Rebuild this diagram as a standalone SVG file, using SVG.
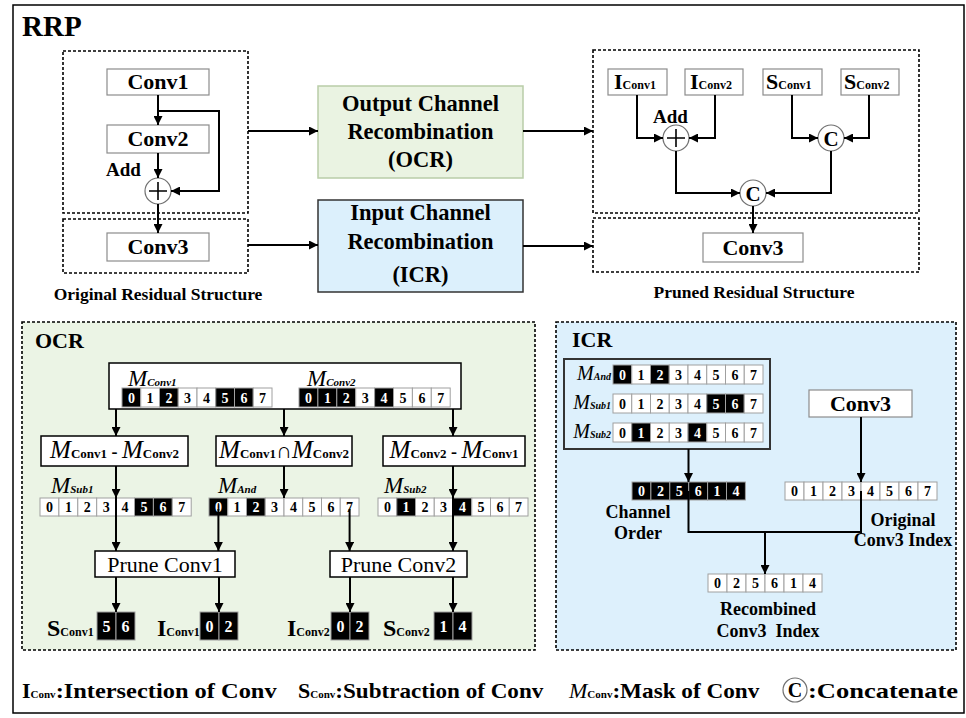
<svg xmlns="http://www.w3.org/2000/svg" width="966" height="718" viewBox="0 0 966 718" font-family="'Liberation Serif', 'Times New Roman', serif">
<defs>
<marker id="ah" viewBox="0 0 10 10" refX="10" refY="5" markerWidth="9" markerHeight="9" markerUnits="userSpaceOnUse" orient="auto"><path d="M0,0 L10,5 L0,10 z" fill="#000"/></marker>
<style>
text{font-family:"Liberation Serif","Times New Roman",serif;font-weight:bold;fill:#000}
.c{text-anchor:middle}
.n{font-weight:normal}
.dash{fill:none;stroke:#000;stroke-width:1.6;stroke-dasharray:3 2}
.gbox{fill:#fff;stroke:#8c8c8c;stroke-width:1.2}
.kbox{fill:#fff;stroke:#000;stroke-width:1.5}
.ln{fill:none;stroke:#000;stroke-width:2}
.ar{fill:none;stroke:#000;stroke-width:2;marker-end:url(#ah)}
.w{fill:#fff;stroke:#a0a0a0;stroke-width:1}
.b{fill:#000;stroke:#a0a0a0;stroke-width:1}
.nw{font-size:14px;text-anchor:middle;fill:#000}
.nb{font-size:14px;text-anchor:middle;fill:#fff}
.rb{font-size:16px;text-anchor:middle;fill:#fff}
.circ{fill:#fff;stroke:#707070;stroke-width:1.2}
.mi{font-style:italic;font-weight:normal}
.sub{font-size:12px}
.it{font-style:italic}
</style>
</defs>
<rect x="13" y="5" width="951" height="708" fill="#fff" stroke="#000" stroke-width="1.5"/>
<text x="22" y="36" font-size="29">RRP</text>

<!-- Original residual structure -->
<g id="orig">
<rect class="dash" x="63" y="51" width="185" height="162"/>
<rect class="dash" x="63" y="219" width="185" height="54"/>
<text class="c" x="158" y="300" font-size="17.5">Original Residual Structure</text>
</g>
<g id="conv1"><rect class="gbox" x="107" y="69" width="102" height="26"/><text class="c" x="158" y="89" font-size="22">Conv1</text></g>
<g id="conv2"><rect class="gbox" x="107" y="125" width="102" height="28"/><text class="c" x="158" y="146" font-size="22">Conv2</text></g>
<g id="conv3"><rect class="gbox" x="107" y="233" width="102" height="28"/><text class="c" x="158" y="254" font-size="22">Conv3</text></g>
<g id="add1"><circle class="circ" cx="158" cy="191" r="13"/><path d="M149,191 H167 M158,182 V200" stroke="#000" stroke-width="1.6"/><text x="106" y="176" font-size="19">Add</text></g>

<!-- OCR / ICR boxes -->
<g id="ocrbox"><rect x="318" y="86" width="205" height="92" fill="#eaf3e2" stroke="#b9cda8" stroke-width="1.5"/>
<text class="c" x="420.5" y="111" font-size="22.5">Output Channel</text>
<text class="c" x="420.5" y="139" font-size="22.5">Recombination</text>
<text class="c" x="420.5" y="167" font-size="22.5">(OCR)</text></g>
<g id="icrbox"><rect x="318" y="200" width="205" height="92" fill="#dcf0fc" stroke="#333" stroke-width="1.5"/>
<text class="c" x="420.5" y="220" font-size="22.5">Input Channel</text>
<text class="c" x="420.5" y="249" font-size="22.5">Recombination</text>
<text class="c" x="420.5" y="282" font-size="22.5">(ICR)</text></g>

<!-- Pruned residual structure -->
<g id="pruned">
<rect class="dash" x="593" y="50" width="326" height="163"/>
<rect class="dash" x="593" y="218" width="326" height="54"/>
<text class="c" x="754" y="298" font-size="17.5">Pruned Residual Structure</text>
</g>
<g id="ic1"><rect class="gbox" x="608" y="69" width="59" height="26"/><text x="614" y="89" font-size="22">I<tspan class="sub">Conv1</tspan></text></g>
<g id="ic2"><rect class="gbox" x="685" y="69" width="58" height="26"/><text x="690" y="89" font-size="22">I<tspan class="sub">Conv2</tspan></text></g>
<g id="sc1"><rect class="gbox" x="763" y="69" width="59" height="26"/><text x="766" y="89" font-size="22">S<tspan class="sub">Conv1</tspan></text></g>
<g id="sc2"><rect class="gbox" x="841" y="69" width="58" height="26"/><text x="844" y="89" font-size="22">S<tspan class="sub">Conv2</tspan></text></g>
<g id="add2"><circle class="circ" cx="676" cy="138" r="13"/><path d="M667,138 H685 M676,129 V147" stroke="#000" stroke-width="1.6"/><text x="653" y="123" font-size="19">Add</text></g>
<g id="cat1"><circle class="circ" cx="831" cy="138" r="13"/><text class="c" x="831" y="145.5" font-size="21">C</text></g>
<g id="cat2"><circle class="circ" cx="753" cy="193" r="13"/><text class="c" x="753" y="200.5" font-size="21">C</text></g>
<g id="pconv3"><rect class="gbox" x="703" y="233" width="100" height="29"/><text class="c" x="753" y="255" font-size="22">Conv3</text></g>

<!-- OCR panel -->
<g id="ocrpanel">
<rect x="22" y="322" width="513" height="328" fill="#ebf4e5" stroke="#000" stroke-width="1.6" stroke-dasharray="3 2"/>
<text x="35" y="348" font-size="22">OCR</text>
</g>
<g id="masks">
<rect class="kbox" x="109" y="363" width="352" height="46"/>
<text x="128" y="386"><tspan class="mi" font-size="23">M</tspan><tspan class="it" font-size="11">Conv1</tspan></text>
<text x="307" y="386"><tspan class="mi" font-size="23">M</tspan><tspan class="it" font-size="11">Conv2</tspan></text>
<rect class="b" x="122" y="388" width="18.75" height="19"/><text class="nb" x="131.4" y="402.5">0</text>
<rect class="w" x="140.75" y="388" width="18.75" height="19"/><text class="nw" x="150.1" y="402.5">1</text>
<rect class="b" x="159.5" y="388" width="18.75" height="19"/><text class="nb" x="168.9" y="402.5">2</text>
<rect class="w" x="178.25" y="388" width="18.75" height="19"/><text class="nw" x="187.6" y="402.5">3</text>
<rect class="w" x="197" y="388" width="18.75" height="19"/><text class="nw" x="206.4" y="402.5">4</text>
<rect class="b" x="215.75" y="388" width="18.75" height="19"/><text class="nb" x="225.1" y="402.5">5</text>
<rect class="b" x="234.5" y="388" width="18.75" height="19"/><text class="nb" x="243.9" y="402.5">6</text>
<rect class="w" x="253.25" y="388" width="18.75" height="19"/><text class="nw" x="262.6" y="402.5">7</text>
<rect class="b" x="299" y="388" width="18.9" height="19"/><text class="nb" x="308.5" y="402.5">0</text>
<rect class="b" x="317.9" y="388" width="18.9" height="19"/><text class="nb" x="327.4" y="402.5">1</text>
<rect class="b" x="336.8" y="388" width="18.9" height="19"/><text class="nb" x="346.3" y="402.5">2</text>
<rect class="w" x="355.7" y="388" width="18.9" height="19"/><text class="nw" x="365.2" y="402.5">3</text>
<rect class="b" x="374.6" y="388" width="18.9" height="19"/><text class="nb" x="384.1" y="402.5">4</text>
<rect class="w" x="393.5" y="388" width="18.9" height="19"/><text class="nw" x="403" y="402.5">5</text>
<rect class="w" x="412.4" y="388" width="18.9" height="19"/><text class="nw" x="421.9" y="402.5">6</text>
<rect class="w" x="431.3" y="388" width="18.9" height="19"/><text class="nw" x="440.8" y="402.5">7</text>
</g>
<g id="op1"><rect class="kbox" x="41" y="436" width="147" height="30"/><text class="c" x="114.5" y="458"><tspan class="mi" font-size="25">M</tspan><tspan font-size="13">Conv1</tspan><tspan font-size="18"> - </tspan><tspan class="mi" font-size="25">M</tspan><tspan font-size="13">Conv2</tspan></text></g>
<g id="op2"><rect class="kbox" x="216" y="436" width="136" height="30"/><text class="c" x="284" y="458"><tspan class="mi" font-size="25">M</tspan><tspan font-size="13">Conv1</tspan><tspan class="n" font-size="22">∩</tspan><tspan class="mi" font-size="25">M</tspan><tspan font-size="13">Conv2</tspan></text></g>
<g id="op3"><rect class="kbox" x="383" y="436" width="142" height="30"/><text class="c" x="454" y="458"><tspan class="mi" font-size="25">M</tspan><tspan font-size="13">Conv2</tspan><tspan font-size="18"> - </tspan><tspan class="mi" font-size="25">M</tspan><tspan font-size="13">Conv1</tspan></text></g>
<g id="sub1">
<text x="51" y="493"><tspan class="mi" font-size="23">M</tspan><tspan class="it" font-size="11">Sub1</tspan></text>
<rect class="w" x="40" y="498" width="18.9" height="18"/><text class="nw" x="49.5" y="512">0</text>
<rect class="w" x="58.9" y="498" width="18.9" height="18"/><text class="nw" x="68.4" y="512">1</text>
<rect class="w" x="77.8" y="498" width="18.9" height="18"/><text class="nw" x="87.3" y="512">2</text>
<rect class="w" x="96.7" y="498" width="18.9" height="18"/><text class="nw" x="106.2" y="512">3</text>
<rect class="w" x="115.6" y="498" width="18.9" height="18"/><text class="nw" x="125.1" y="512">4</text>
<rect class="b" x="134.5" y="498" width="18.9" height="18"/><text class="nb" x="144" y="512">5</text>
<rect class="b" x="153.4" y="498" width="18.9" height="18"/><text class="nb" x="162.9" y="512">6</text>
<rect class="w" x="172.3" y="498" width="18.9" height="18"/><text class="nw" x="181.8" y="512">7</text>
</g>
<g id="and">
<text x="218" y="493"><tspan class="mi" font-size="23">M</tspan><tspan class="it" font-size="11">And</tspan></text>
<rect class="b" x="209" y="498" width="18.75" height="18"/><text class="nb" x="218.4" y="512">0</text>
<rect class="w" x="227.75" y="498" width="18.75" height="18"/><text class="nw" x="237.1" y="512">1</text>
<rect class="b" x="246.5" y="498" width="18.75" height="18"/><text class="nb" x="255.9" y="512">2</text>
<rect class="w" x="265.25" y="498" width="18.75" height="18"/><text class="nw" x="274.6" y="512">3</text>
<rect class="w" x="284" y="498" width="18.75" height="18"/><text class="nw" x="293.4" y="512">4</text>
<rect class="w" x="302.75" y="498" width="18.75" height="18"/><text class="nw" x="312.1" y="512">5</text>
<rect class="w" x="321.5" y="498" width="18.75" height="18"/><text class="nw" x="330.9" y="512">6</text>
<rect class="w" x="340.25" y="498" width="18.75" height="18"/><text class="nw" x="349.6" y="512">7</text>
</g>
<g id="sub2">
<text x="384" y="493"><tspan class="mi" font-size="23">M</tspan><tspan class="it" font-size="11">Sub2</tspan></text>
<rect class="w" x="378" y="498" width="18.75" height="18"/><text class="nw" x="387.4" y="512">0</text>
<rect class="b" x="396.75" y="498" width="18.75" height="18"/><text class="nb" x="406.1" y="512">1</text>
<rect class="w" x="415.5" y="498" width="18.75" height="18"/><text class="nw" x="424.9" y="512">2</text>
<rect class="w" x="434.25" y="498" width="18.75" height="18"/><text class="nw" x="443.6" y="512">3</text>
<rect class="b" x="453" y="498" width="18.75" height="18"/><text class="nb" x="462.4" y="512">4</text>
<rect class="w" x="471.75" y="498" width="18.75" height="18"/><text class="nw" x="481.1" y="512">5</text>
<rect class="w" x="490.5" y="498" width="18.75" height="18"/><text class="nw" x="499.9" y="512">6</text>
<rect class="w" x="509.25" y="498" width="18.75" height="18"/><text class="nw" x="518.6" y="512">7</text>
</g>
<g id="prune1"><rect class="kbox" x="95" y="551" width="140" height="26"/><text class="c n" x="165" y="572" font-size="22">Prune Conv1</text></g>
<g id="prune2"><rect class="kbox" x="330" y="551" width="137" height="26"/><text class="c n" x="398.5" y="572" font-size="22">Prune Conv2</text></g>
<g id="results">
<text x="47" y="636" font-size="24">S<tspan class="sub">Conv1</tspan></text>
<rect class="b" x="97" y="612" width="19" height="28"/><text class="rb" x="106.5" y="632">5</text>
<rect class="b" x="116" y="612" width="19" height="28"/><text class="rb" x="125.5" y="632">6</text>
<text x="157" y="636" font-size="24">I<tspan class="sub">Conv1</tspan></text>
<rect class="b" x="200" y="612" width="19" height="28"/><text class="rb" x="209.5" y="632">0</text>
<rect class="b" x="219" y="612" width="19" height="28"/><text class="rb" x="228.5" y="632">2</text>
<text x="287" y="636" font-size="24">I<tspan class="sub">Conv2</tspan></text>
<rect class="b" x="331" y="612" width="19" height="28"/><text class="rb" x="340.5" y="632">0</text>
<rect class="b" x="350" y="612" width="19" height="28"/><text class="rb" x="359.5" y="632">2</text>
<text x="383" y="636" font-size="24">S<tspan class="sub">Conv2</tspan></text>
<rect class="b" x="434" y="612" width="19" height="28"/><text class="rb" x="443.5" y="632">1</text>
<rect class="b" x="453" y="612" width="19" height="28"/><text class="rb" x="462.5" y="632">4</text>
</g>

<!-- ICR panel -->
<g id="icrpanel">
<rect x="556" y="322" width="400" height="328" fill="#ddf0fc" stroke="#000" stroke-width="1.6" stroke-dasharray="3 2"/>
<text x="572" y="347" font-size="22">ICR</text>
</g>
<g id="icrmasks">
<rect x="564" y="359" width="206" height="90" fill="#ddf0fc" stroke="#333" stroke-width="2"/>
<text x="611" y="380" text-anchor="end"><tspan class="mi" font-size="20">M</tspan><tspan class="it" font-size="10">And</tspan></text>
<text x="611" y="409" text-anchor="end"><tspan class="mi" font-size="20">M</tspan><tspan class="it" font-size="10">Sub1</tspan></text>
<text x="611" y="438" text-anchor="end"><tspan class="mi" font-size="20">M</tspan><tspan class="it" font-size="10">Sub2</tspan></text>
<rect class="b" x="613" y="365" width="18.75" height="19"/><text class="nb" x="622.4" y="379.5">0</text>
<rect class="w" x="631.75" y="365" width="18.75" height="19"/><text class="nw" x="641.1" y="379.5">1</text>
<rect class="b" x="650.5" y="365" width="18.75" height="19"/><text class="nb" x="659.9" y="379.5">2</text>
<rect class="w" x="669.25" y="365" width="18.75" height="19"/><text class="nw" x="678.6" y="379.5">3</text>
<rect class="w" x="688" y="365" width="18.75" height="19"/><text class="nw" x="697.4" y="379.5">4</text>
<rect class="w" x="706.75" y="365" width="18.75" height="19"/><text class="nw" x="716.1" y="379.5">5</text>
<rect class="w" x="725.5" y="365" width="18.75" height="19"/><text class="nw" x="734.9" y="379.5">6</text>
<rect class="w" x="744.25" y="365" width="18.75" height="19"/><text class="nw" x="753.6" y="379.5">7</text>
<rect class="w" x="613" y="394" width="18.75" height="19"/><text class="nw" x="622.4" y="408.5">0</text>
<rect class="w" x="631.75" y="394" width="18.75" height="19"/><text class="nw" x="641.1" y="408.5">1</text>
<rect class="w" x="650.5" y="394" width="18.75" height="19"/><text class="nw" x="659.9" y="408.5">2</text>
<rect class="w" x="669.25" y="394" width="18.75" height="19"/><text class="nw" x="678.6" y="408.5">3</text>
<rect class="w" x="688" y="394" width="18.75" height="19"/><text class="nw" x="697.4" y="408.5">4</text>
<rect class="b" x="706.75" y="394" width="18.75" height="19"/><text class="nb" x="716.1" y="408.5">5</text>
<rect class="b" x="725.5" y="394" width="18.75" height="19"/><text class="nb" x="734.9" y="408.5">6</text>
<rect class="w" x="744.25" y="394" width="18.75" height="19"/><text class="nw" x="753.6" y="408.5">7</text>
<rect class="w" x="613" y="423" width="18.75" height="19"/><text class="nw" x="622.4" y="437.5">0</text>
<rect class="b" x="631.75" y="423" width="18.75" height="19"/><text class="nb" x="641.1" y="437.5">1</text>
<rect class="w" x="650.5" y="423" width="18.75" height="19"/><text class="nw" x="659.9" y="437.5">2</text>
<rect class="w" x="669.25" y="423" width="18.75" height="19"/><text class="nw" x="678.6" y="437.5">3</text>
<rect class="b" x="688" y="423" width="18.75" height="19"/><text class="nb" x="697.4" y="437.5">4</text>
<rect class="w" x="706.75" y="423" width="18.75" height="19"/><text class="nw" x="716.1" y="437.5">5</text>
<rect class="w" x="725.5" y="423" width="18.75" height="19"/><text class="nw" x="734.9" y="437.5">6</text>
<rect class="w" x="744.25" y="423" width="18.75" height="19"/><text class="nw" x="753.6" y="437.5">7</text>
</g>
<g id="icrconv3"><rect class="gbox" x="809" y="390" width="103" height="27"/><text class="c" x="860.5" y="411" font-size="22">Conv3</text></g>
<g id="order">
<rect class="b" x="632" y="482" width="18.9" height="18"/><text class="nb" x="641.5" y="496">0</text>
<rect class="b" x="650.9" y="482" width="18.9" height="18"/><text class="nb" x="660.4" y="496">2</text>
<rect class="b" x="669.8" y="482" width="18.9" height="18"/><text class="nb" x="679.3" y="496">5</text>
<rect class="b" x="688.7" y="482" width="18.9" height="18"/><text class="nb" x="698.2" y="496">6</text>
<rect class="b" x="707.6" y="482" width="18.9" height="18"/><text class="nb" x="717.1" y="496">1</text>
<rect class="b" x="726.5" y="482" width="18.9" height="18"/><text class="nb" x="736" y="496">4</text>
<text class="c" x="638" y="518" font-size="18">Channel</text>
<text class="c" x="638" y="539" font-size="18">Order</text>
</g>
<g id="origidx">
<rect class="w" x="785" y="482" width="19" height="18"/><text class="nw" x="794.5" y="496">0</text>
<rect class="w" x="804" y="482" width="19" height="18"/><text class="nw" x="813.5" y="496">1</text>
<rect class="w" x="823" y="482" width="19" height="18"/><text class="nw" x="832.5" y="496">2</text>
<rect class="w" x="842" y="482" width="19" height="18"/><text class="nw" x="851.5" y="496">3</text>
<rect class="w" x="861" y="482" width="19" height="18"/><text class="nw" x="870.5" y="496">4</text>
<rect class="w" x="880" y="482" width="19" height="18"/><text class="nw" x="889.5" y="496">5</text>
<rect class="w" x="899" y="482" width="19" height="18"/><text class="nw" x="908.5" y="496">6</text>
<rect class="w" x="918" y="482" width="19" height="18"/><text class="nw" x="927.5" y="496">7</text>
<text class="c" x="903" y="526" font-size="18">Original</text>
<text class="c" x="903" y="546" font-size="18">Conv3 Index</text>
</g>
<g id="recomb">
<rect class="w" x="708" y="574" width="19" height="18"/><text class="nw" x="717.5" y="588">0</text>
<rect class="w" x="727" y="574" width="19" height="18"/><text class="nw" x="736.5" y="588">2</text>
<rect class="w" x="746" y="574" width="19" height="18"/><text class="nw" x="755.5" y="588">5</text>
<rect class="w" x="765" y="574" width="19" height="18"/><text class="nw" x="774.5" y="588">6</text>
<rect class="w" x="784" y="574" width="19" height="18"/><text class="nw" x="793.5" y="588">1</text>
<rect class="w" x="803" y="574" width="19" height="18"/><text class="nw" x="812.5" y="588">4</text>
<text class="c" x="768" y="615" font-size="18">Recombined</text>
<text class="c" x="768" y="637" font-size="18" xml:space="preserve">Conv3  Index</text>
</g>

<!-- Connectors -->
<g id="connectors">
<path class="ar" d="M158,95 V125"/>
<path class="ar" d="M158,111 H219 V191 H171"/>
<path class="ar" d="M158,153 V178"/>
<path class="ar" d="M158,204 V233"/>
<path class="ar" d="M248,131 H318"/>
<path class="ar" d="M248,245 H318"/>
<path class="ar" d="M523,131 H593"/>
<path class="ar" d="M523,246 H593"/>
<path class="ar" d="M637,95 V138 H663"/>
<path class="ar" d="M715,95 V138 H689"/>
<path class="ar" d="M792,95 V138 H818"/>
<path class="ar" d="M869,95 V138 H844"/>
<path class="ar" d="M676,151 V193 H740"/>
<path class="ar" d="M831,151 V193 H766"/>
<path class="ar" d="M753,206 V233"/>
<path class="ar" d="M116,409 V436"/>
<path class="ar" d="M284,409 V436"/>
<path class="ar" d="M453,409 V436"/>
<path class="ar" d="M116,466 V498"/>
<path class="ar" d="M284,466 V498"/>
<path class="ar" d="M453,466 V498"/>
<path class="ln" d="M116,498 V516"/>
<path class="ln" d="M453,498 V516"/>
<path class="ar" d="M116,516 V551"/>
<path class="ar" d="M218.4,509 V551"/>
<path class="ar" d="M349.6,509 V551"/>
<path class="ar" d="M453,516 V551"/>
<path class="ar" d="M116,577 V612"/>
<path class="ar" d="M219,577 V612"/>
<path class="ar" d="M350,577 V612"/>
<path class="ar" d="M453,577 V612"/>
<path class="ar" d="M688.5,449 V482"/>
<path class="ar" d="M861,417 V482"/>
<path class="ln" d="M688.5,491 V532 H861 V491"/>
<path class="ar" d="M765,532 V574"/>
</g>

<!-- Legend -->
<g id="legend">
<text x="22" y="698" font-size="22">I<tspan font-size="11">Conv</tspan><tspan textLength="221" lengthAdjust="spacingAndGlyphs">:Intersection of Conv</tspan></text>
<text x="298" y="698" font-size="22">S<tspan font-size="11">Conv</tspan><tspan textLength="208" lengthAdjust="spacingAndGlyphs">:Subtraction of Conv</tspan></text>
<text x="569" y="698" font-size="22"><tspan class="mi">M</tspan><tspan font-size="11">Conv</tspan><tspan textLength="147" lengthAdjust="spacingAndGlyphs">:Mask of Conv</tspan></text>
<circle class="circ" cx="795" cy="690" r="12"/><text class="c" x="795" y="697" font-size="20">C</text>
<text x="808" y="698" font-size="22" textLength="150" lengthAdjust="spacingAndGlyphs">:Concatenate</text>
</g>
</svg>
